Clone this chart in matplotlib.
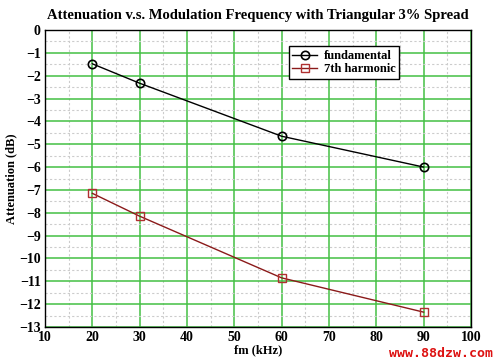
import matplotlib
matplotlib.use("Agg")
import matplotlib.pyplot as plt
import numpy as np

fm = [20, 30, 60, 90]
fundamental = [-1.48, -2.33, -4.65, -6.0]
harmonic7 = [-7.15, -8.15, -10.85, -12.35]
xticks = list(range(10, 101, 10))
yticks = list(range(-13, 1, 1))

plt.rcParams['font.family'] = ['Liberation Serif', 'DejaVu Serif']
plt.rcParams['font.weight'] = 'bold'

fig = plt.figure(figsize=(5.0, 3.61), dpi=100)
ax = fig.add_axes([45/500, 1-327/361, 426/500, 297/361])

ax.set_xlim(10, 100)
ax.set_ylim(-13, 0)
ax.set_xticks(xticks)
ax.set_yticks(yticks)
ax.set_xticks(np.arange(15, 100, 10), minor=True)
ax.set_yticks(np.arange(-12.5, 0, 1.0), minor=True)
ax.grid(which='major', color='#44c044', linewidth=1.1)
ax.grid(which='minor', color='#cccccc', linewidth=0.8, linestyle=(0, (2, 2)))
ax.tick_params(which='both', length=0, labelsize=10, pad=3)
for lab in ax.get_xticklabels() + ax.get_yticklabels():
    lab.set_fontweight('bold')
for s in ax.spines.values():
    s.set_linewidth(1.0)
    s.set_color('black')
ax.set_axisbelow(True)

ax.plot(fm, fundamental, color='black', linewidth=1.0, marker='o', markersize=6,
        markerfacecolor='none', markeredgecolor='black', markeredgewidth=1.2, label='fundamental')
ax.plot(fm, harmonic7, color='#8b1a1a', linewidth=1.0, marker='s', markersize=6,
        markerfacecolor='none', markeredgecolor='#b03030', markeredgewidth=1.0, label='7th harmonic')

leg = ax.legend(loc='upper left', bbox_to_anchor=(0.572, 0.945), fancybox=False,
                framealpha=1, edgecolor='black', fontsize=9, handlelength=2.0,
                borderpad=0.3, labelspacing=0.1, handletextpad=0.5, borderaxespad=0)
leg.get_frame().set_linewidth(1.0)
for t in leg.get_texts():
    t.set_fontweight('bold')

ax.set_title('Attenuation v.s. Modulation Frequency with Triangular 3% Spread',
             fontsize=10.5, fontweight='bold', pad=8)
ax.set_xlabel('fm (kHz)', fontsize=9, fontweight='bold', labelpad=0)
ax.set_ylabel('Attenuation (dB)', fontsize=9, fontweight='bold', labelpad=1)

fig.text(0.986, 0.022, 'www.88dzw.com', color='#dd1111', fontsize=9.5,
         fontweight='bold', family='DejaVu Sans Mono', ha='right', va='center')

fig.savefig('out.png', dpi=100, facecolor='white')
